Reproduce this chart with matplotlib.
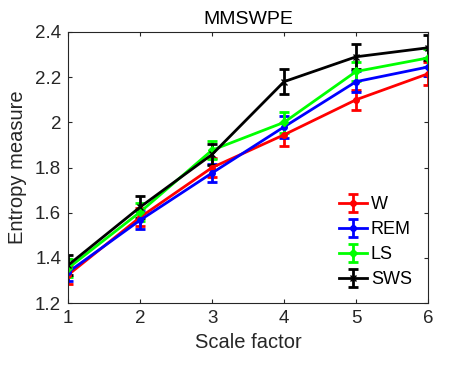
import matplotlib
matplotlib.use("Agg")
import matplotlib.pyplot as plt

plt.rcParams['font.family'] = ['Liberation Sans', 'DejaVu Sans']

scale = [1, 2, 3, 4, 5, 6]
W = [1.325, 1.58, 1.80, 1.945, 2.10, 2.215]
W_err = [0.04, 0.04, 0.04, 0.05, 0.045, 0.05]
REM = [1.337, 1.567, 1.776, 1.98, 2.18, 2.245]
REM_err = [0.04, 0.04, 0.04, 0.05, 0.045, 0.04]
LS = [1.355, 1.603, 1.877, 2.00, 2.225, 2.285]
LS_err = [0.04, 0.04, 0.04, 0.045, 0.04, 0.04]
SWS = [1.368, 1.625, 1.858, 2.18, 2.29, 2.33]
SWS_err = [0.045, 0.05, 0.045, 0.055, 0.055, 0.055]

series = [("W", W, W_err, "#ff0000", "o"),
          ("REM", REM, REM_err, "#0000ff", "o"),
          ("LS", LS, LS_err, "#00ff00", "D"),
          ("SWS", SWS, SWS_err, "#000000", "x")]

fig = plt.figure(figsize=(4.73, 3.67), dpi=100)
ax = fig.add_axes([0.144, 0.174, 0.761, 0.739])
for name, y, e, c, m in series:
    ax.errorbar(scale, y, yerr=e, color=c, marker=m, markersize=4, lw=2,
                elinewidth=2, capsize=3.3, capthick=2, label=name,
                markerfacecolor=c if m != "x" else None)

ax.set_xlim(1, 6)
ax.set_ylim(1.2, 2.4)
ax.set_xticks(scale)
ax.set_yticks([1.2, 1.4, 1.6, 1.8, 2.0, 2.2, 2.4])
ax.set_yticklabels(["1.2", "1.4", "1.6", "1.8", "2", "2.2", "2.4"])
for s in ax.spines.values():
    s.set_color("#262626")
    s.set_linewidth(0.8)
ax.tick_params(direction='in', top=True, right=True, labelsize=13.5,
               length=3, colors="#262626", pad=5)
ax.set_xlabel("Scale factor", fontsize=14.5, color="#262626", labelpad=4)
ax.set_ylabel("Entropy measure", fontsize=14.5, color="#262626", labelpad=6)
ax.set_title("MMSWPE", fontsize=14, pad=6)
leg = ax.legend(loc='lower right', frameon=False, fontsize=13,
                bbox_to_anchor=(0.955, 0.055), borderaxespad=0, borderpad=0,
                handlelength=1.55, labelspacing=0.45, handletextpad=0.2)
fig.savefig("out.png", dpi=100)
